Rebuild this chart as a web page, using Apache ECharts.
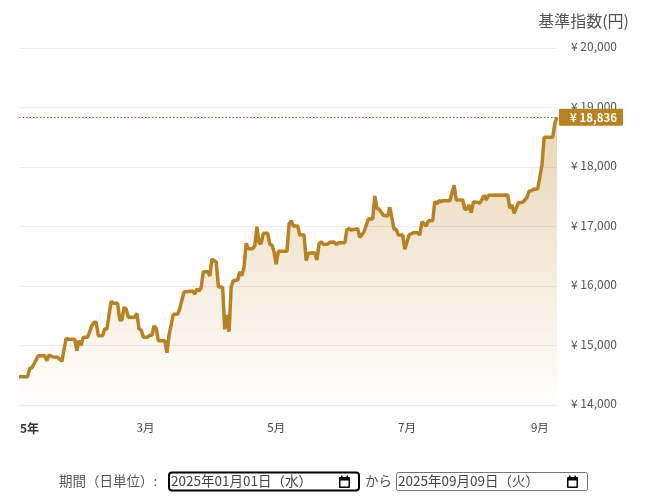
<!DOCTYPE html>
<html lang="ja">
<head>
<meta charset="utf-8">
<style>html,body{margin:0;padding:0;background:#fff}#c{width:656px;height:503px}</style>
<script src="https://cdn.jsdelivr.net/npm/echarts@6/dist/echarts.min.js"></script>
</head>
<body>
<div id="c"></div>
<script>
// days since 2025-01-01 for each vertex of the line
const dayOffsets = [0,4,5,6,9,12,13,14,16,18,20,22,23,26,27,28,29,30,32,34,35,36,37,39,40,41,43,44,46,47,48,49,50,51,54,55,56,57,58,60,61,62,63,64,65,68,69,70,72,74,75,77,81,82,83,84,85,86,88,89,90,92,93,95,96,97,98,99,100,102,103,104,105,106,107,109,110,111,112,113,114,116,117,118,119,120,121,125,126,127,128,130,131,133,134,135,138,139,140,141,142,144,145,147,148,149,152,153,154,155,158,159,161,163,165,166,167,168,170,172,173,175,176,177,179,180,182,184,186,187,188,190,191,193,194,195,196,197,198,201,203,204,207,208,209,210,211,212,214,215,217,218,219,228,229,230,231,233,235,237,238,239,240,242,244,245,249,250,251];
const navValues = [14475,14475,14617,14622,14828,14828,14744,14840,14807,14802,14734,15121,15104,15104,14912,15080,15003,15138,15138,15333,15390,15390,15165,15165,15277,15277,15743,15709,15709,15428,15428,15642,15608,15474,15474,15541,15277,15260,15138,15138,15171,15171,15328,15294,15081,15081,14879,15177,15524,15524,15625,15899,15916,15865,15949,15916,15978,16240,16240,16168,16449,16403,15988,15978,15272,15512,15232,15988,16089,16101,16240,16173,16324,16718,16627,16627,16672,16997,16718,16718,16886,16886,16701,16689,16577,16365,16583,16583,17042,17097,17008,17008,16857,16857,16425,16549,16559,16437,16706,16744,16701,16701,16734,16739,16694,16728,16728,16949,16963,16941,16963,16818,16912,17126,17126,17513,17306,17289,17188,17176,17323,16953,16953,16857,16857,16617,16857,16896,16896,16857,17081,17008,17098,17098,17423,17378,17434,17417,17434,17434,17692,17445,17445,17294,17289,17361,17232,17412,17407,17390,17524,17445,17524,17529,17306,17361,17222,17400,17407,17491,17597,17602,17625,17630,18034,18499,18499,18734,18836];
const latestValue = 18836;
const xTickDays = [0,59,120,181,243];
const xTickLabels = ['5年','3月','5月','7月','9月'];
const axisTitle = '基準指数(円)';
const periodLabel = '期間（日単位）:';
const fromText = '2025年01月01日（水）';
const joinText = 'から';
const toText = '2025年09月09日（火）';

const FONT = '"Noto Sans CJK JP","Noto Sans",sans-serif';
const GOLD = '#b88220';
const yen = v => '¥ ' + v.toLocaleString('en-US');

function calendar(x, y) {
  return [
    {type:'rect', shape:{x:x, y:y+1, width:11, height:11, r:1}, style:{fill:'#000'}},
    {type:'rect', shape:{x:x+1.5, y:y+4.5, width:8, height:6}, style:{fill:'#fff'}},
    {type:'rect', shape:{x:x+2, y:y-0.5, width:1.5, height:2}, style:{fill:'#000'}},
    {type:'rect', shape:{x:x+7.5, y:y-0.5, width:1.5, height:2}, style:{fill:'#000'}}
  ];
}
const txt = (x, y, t, c) => ({type:'text', x:x, y:y, style:{text:t, fill:c||'#555', font:'13.5px '+FONT, textVerticalAlign:'middle'}});

const chart = echarts.init(document.getElementById('c'), null, {renderer:'canvas'});
chart.setOption({
  animation:false,
  title:{text:axisTitle, right:22, top:8, textStyle:{fontSize:16, fontWeight:'normal', color:'#555', fontFamily:FONT}},
  grid:{left:19, right:99, top:48, bottom:98},
  xAxis:{
    type:'value', min:0, max:251,
    axisLine:{show:false}, axisTick:{show:false}, splitLine:{show:false},
    axisLabel:{
      customValues:xTickDays, alignMinLabel:'left', hideOverlap:false, margin:17,
      color:'#444', fontSize:11.5, fontFamily:FONT,
      formatter:v=>{const i=xTickDays.indexOf(v); return i===0?'{b|'+xTickLabels[i]+'}':xTickLabels[i];},
      rich:{b:{fontWeight:'bold', color:'#333', fontSize:12, padding:[0,0,0,1], fontFamily:FONT}}
    }
  },
  yAxis:{
    type:'value', position:'right', min:14000, max:20000, interval:1000,
    axisLine:{show:false}, axisTick:{show:false},
    splitLine:{lineStyle:{color:'#ececec', width:1}},
    axisLabel:{margin:14, formatter:v=>'{t|'+yen(v)+'}',
      rich:{t:{color:'#555', fontSize:12, fontFamily:FONT, lineHeight:14, padding:[0,0,3,0]}}}
  },
  series:[{
    type:'line',
    data:dayOffsets.map((d,i)=>[d, navValues[i]]),
    showSymbol:false, symbol:'none', smooth:false,
    lineStyle:{color:GOLD, width:3.5},
    itemStyle:{color:GOLD},
    areaStyle:{color:new echarts.graphic.LinearGradient(0,0,0,1,[
      {offset:0, color:'rgba(184,130,32,0.47)'},
      {offset:1, color:'rgba(184,130,32,0.01)'}
    ])},
    markLine:{
      silent:true, symbol:'none', animation:false,
      lineStyle:{color:'#8a6a2a', type:[1.5,2], width:1},
      label:{
        position:'end', distance:2, formatter:()=>yen(latestValue),
        backgroundColor:GOLD, color:'#fff', fontWeight:'bold', fontSize:11.5, fontFamily:FONT,
        width:53, height:17, lineHeight:17, align:'left', padding:[0,0,0,11], borderRadius:1
      },
      data:[{yAxis:latestValue}]
    }
  }],
  graphic:[
    txt(59,481,periodLabel),
    {type:'rect', shape:{x:169,y:472.5,width:190,height:18,r:3}, style:{fill:'#fff', stroke:'#000', lineWidth:2}},
    txt(171,481,fromText,'#444'),
    ...calendar(339,476),
    txt(365,481,joinText),
    {type:'rect', shape:{x:396.5,y:472.5,width:191,height:18,r:2}, style:{fill:'#fff', stroke:'#767676', lineWidth:1}},
    txt(398,481,toText,'#444'),
    ...calendar(567,476)
  ]
});
</script>
</body>
</html>
